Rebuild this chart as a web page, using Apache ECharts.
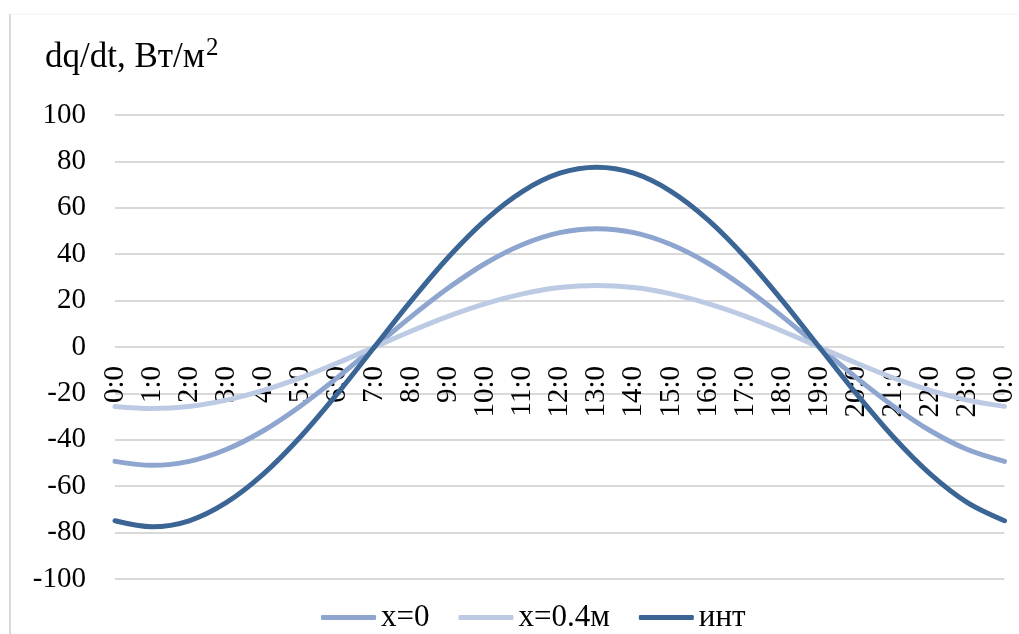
<!DOCTYPE html>
<html>
<head>
<meta charset="utf-8">
<script src="https://cdn.jsdelivr.net/npm/echarts@6/dist/echarts.min.js"></script>
<style>
  html, body { margin: 0; padding: 0; background: #fff; }
  #chart { width: 1019px; height: 634px; }
</style>
</head>
<body>
<div id="chart"></div>
<script>
// Hourly heat flux, W/m², over one day
const hours = ['0:0','1:0','2:0','3:0','4:0','5:0','6:0','7:0','8:0','9:0','10:0','11:0',
               '12:0','13:0','14:0','15:0','16:0','17:0','18:0','19:0','20:0','21:0','22:0','23:0','0:0'];

const surface = [-49.3, -51, -49.3, -44.2, -36.1, -25.5, -13.2, 0, 13.2, 25.5, 36.1, 44.2,
                 49.3, 51, 49.3, 44.2, 36.1, 25.5, 13.2, 0, -13.2, -25.5, -36.1, -44.2, -49.3];

const depth04 = [-25.6, -26.5, -25.6, -22.9, -18.7, -13.3, -6.9, 0, 6.9, 13.3, 18.7, 22.9,
                 25.6, 26.5, 25.6, 22.9, 18.7, 13.3, 6.9, 0, -6.9, -13.3, -18.7, -22.9, -25.6];

const integral = [-74.9, -77.5, -74.9, -67.1, -54.8, -38.8, -20.1, 0, 20.1, 38.8, 54.8, 67.1,
                  74.9, 77.5, 74.9, 67.1, 54.8, 38.8, 20.1, 0, -20.1, -38.8, -54.8, -67.1, -74.9];

const seriesNames = ['x=0', 'x=0.4м', 'инт'];
const colors = ['#8ea5cf', '#bccae4', '#3b6595'];

const FONT = "'Liberation Serif', 'Times New Roman', serif";

const GRID_TOP = 115;
const GRID_BOTTOM = 55;
const CHART_H = 634;

const chart = echarts.init(document.getElementById('chart'));

function lineSeries(name, data, color) {
  return {
    name: name,
    type: 'line',
    data: data,
    smooth: 0.33,
    showSymbol: false,
    symbol: 'none',
    lineStyle: { color: color, width: 5, cap: 'round' },
    itemStyle: { color: color },
    z: 3
  };
}

// category axis sits on the zero line, halfway up the symmetric value range
const plotHeight = CHART_H - GRID_TOP - GRID_BOTTOM;

chart.setOption({
  backgroundColor: '#fff',
  animation: false,
  textStyle: { fontFamily: FONT, color: '#000' },
  graphic: [
    { type: 'line', shape: { x1: 10, y1: 14, x2: 10, y2: 634 },
      style: { stroke: '#d9d9d9', lineWidth: 2 } },
    { type: 'line', shape: { x1: 10, y1: 14, x2: 1019, y2: 14 },
      style: { stroke: '#f2f2f2', lineWidth: 1 } },
    { type: 'text', left: 45, top: 36,
      style: {
        text: '{m|dq/dt, Вт/м}{s|2}',
        rich: {
          m: { fontFamily: FONT, fontSize: 35, fill: '#000', verticalAlign: 'bottom' },
          s: { fontFamily: FONT, fontSize: 25, fill: '#000', verticalAlign: 'top', padding: [0, 0, 14, 1] }
        }
      } }
  ],
  grid: { left: 115, right: 13, top: GRID_TOP, bottom: GRID_BOTTOM, containLabel: false },
  legend: {
    bottom: -4,
    left: 316,
    icon: 'roundRect',
    itemWidth: 55,
    itemHeight: 5,
    itemGap: 29,
    textStyle: { fontFamily: FONT, fontSize: 31, color: '#000' },
    data: seriesNames
  },
  xAxis: {
    type: 'category',
    data: hours,
    boundaryGap: false,
    position: 'bottom',
    offset: -plotHeight / 2,
    axisLine: { show: false },
    axisTick: { show: false },
    splitLine: { show: false },
    axisLabel: {
      rotate: 90,
      interval: 0,
      margin: 19,
      fontFamily: FONT,
      fontSize: 29,
      color: '#000'
    }
  },
  yAxis: {
    type: 'value',
    min: -100,
    max: 100,
    interval: 20,
    axisLine: { show: false },
    axisTick: { show: false },
    splitLine: { lineStyle: { color: '#d9d9d9', width: 2 } },
    axisLabel: { margin: 29, fontFamily: FONT, fontSize: 29, color: '#000' }
  },
  series: [
    lineSeries(seriesNames[0], surface, colors[0]),
    lineSeries(seriesNames[1], depth04, colors[1]),
    lineSeries(seriesNames[2], integral, colors[2])
  ]
});
</script>
</body>
</html>
